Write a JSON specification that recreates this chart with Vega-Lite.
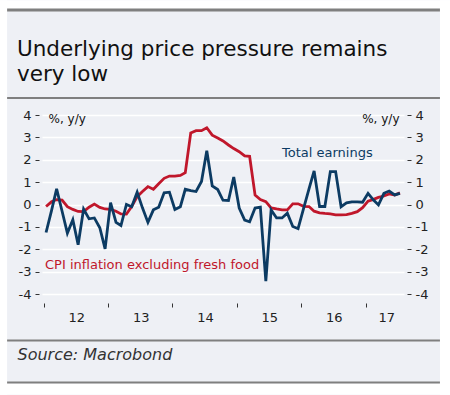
{
  "$schema": "https://vega.github.io/schema/vega-lite/v6.json",
  "width": 362,
  "height": 179,
  "autosize": "none",
  "padding": {"left": 42, "top": 115, "right": 46, "bottom": 101},
  "background": "#eef0f5",
  "config": {
    "view": {"stroke": null},
    "font": "DejaVu Sans"
  },
  "title": {
    "text": ["Underlying price pressure remains", "very low"],
    "anchor": "start",
    "frame": "group",
    "baseline": "alphabetic",
    "dx": -25,
    "dy": 102,
    "offset": 0,
    "fontSize": 21.5,
    "fontWeight": "normal",
    "color": "#111111",
    "lineHeight": 25,
    "font": "DejaVu Sans"
  },
  "data": {
    "values": [
      {"date": "2012-01-15", "cpi": -0.09, "earnings": -1.25},
      {"date": "2012-02-15", "cpi": 0.12, "earnings": -0.27},
      {"date": "2012-03-15", "cpi": 0.22, "earnings": 0.70},
      {"date": "2012-04-15", "cpi": 0.20, "earnings": -0.30},
      {"date": "2012-05-15", "cpi": -0.10, "earnings": -1.28},
      {"date": "2012-06-15", "cpi": -0.22, "earnings": -0.68},
      {"date": "2012-07-15", "cpi": -0.31, "earnings": -1.80},
      {"date": "2012-08-15", "cpi": -0.32, "earnings": -0.20},
      {"date": "2012-09-15", "cpi": -0.12, "earnings": -0.64},
      {"date": "2012-10-15", "cpi": 0.02, "earnings": -0.60},
      {"date": "2012-11-15", "cpi": -0.13, "earnings": -1.04},
      {"date": "2012-12-15", "cpi": -0.20, "earnings": -1.98},
      {"date": "2013-01-15", "cpi": -0.22, "earnings": 0.08},
      {"date": "2013-02-15", "cpi": -0.30, "earnings": -0.80},
      {"date": "2013-03-15", "cpi": -0.42, "earnings": -0.94},
      {"date": "2013-04-15", "cpi": -0.43, "earnings": 0.00},
      {"date": "2013-05-15", "cpi": -0.09, "earnings": -0.10},
      {"date": "2013-06-15", "cpi": 0.35, "earnings": 0.55},
      {"date": "2013-07-15", "cpi": 0.58, "earnings": -0.15},
      {"date": "2013-08-15", "cpi": 0.80, "earnings": -0.80},
      {"date": "2013-09-15", "cpi": 0.68, "earnings": -0.24},
      {"date": "2013-10-15", "cpi": 0.93, "earnings": -0.12},
      {"date": "2013-11-15", "cpi": 1.17, "earnings": 0.52},
      {"date": "2013-12-15", "cpi": 1.27, "earnings": 0.55},
      {"date": "2014-01-15", "cpi": 1.27, "earnings": -0.22},
      {"date": "2014-02-15", "cpi": 1.30, "earnings": -0.10},
      {"date": "2014-03-15", "cpi": 1.42, "earnings": 0.68},
      {"date": "2014-04-15", "cpi": 3.20, "earnings": 0.62},
      {"date": "2014-05-15", "cpi": 3.30, "earnings": 0.58},
      {"date": "2014-06-15", "cpi": 3.30, "earnings": 1.03},
      {"date": "2014-07-15", "cpi": 3.43, "earnings": 2.40},
      {"date": "2014-08-15", "cpi": 3.10, "earnings": 0.83},
      {"date": "2014-09-15", "cpi": 2.97, "earnings": 0.67},
      {"date": "2014-10-15", "cpi": 2.84, "earnings": 0.19},
      {"date": "2014-11-15", "cpi": 2.66, "earnings": 0.18},
      {"date": "2014-12-15", "cpi": 2.50, "earnings": 1.23},
      {"date": "2015-01-15", "cpi": 2.36, "earnings": -0.16},
      {"date": "2015-02-15", "cpi": 2.17, "earnings": -0.70},
      {"date": "2015-03-15", "cpi": 2.15, "earnings": -0.77},
      {"date": "2015-04-15", "cpi": 0.42, "earnings": -0.16},
      {"date": "2015-05-15", "cpi": 0.22, "earnings": -0.12},
      {"date": "2015-06-15", "cpi": 0.13, "earnings": -3.43},
      {"date": "2015-07-15", "cpi": -0.15, "earnings": -0.24},
      {"date": "2015-08-15", "cpi": -0.20, "earnings": -0.60},
      {"date": "2015-09-15", "cpi": -0.24, "earnings": -0.60},
      {"date": "2015-10-15", "cpi": -0.24, "earnings": -0.39},
      {"date": "2015-11-15", "cpi": 0.03, "earnings": -0.98},
      {"date": "2015-12-15", "cpi": 0.03, "earnings": -1.08},
      {"date": "2016-01-15", "cpi": -0.08, "earnings": -0.18},
      {"date": "2016-02-15", "cpi": -0.09, "earnings": 0.70},
      {"date": "2016-03-15", "cpi": -0.30, "earnings": 1.50},
      {"date": "2016-04-15", "cpi": -0.37, "earnings": -0.09},
      {"date": "2016-05-15", "cpi": -0.40, "earnings": -0.09},
      {"date": "2016-06-15", "cpi": -0.42, "earnings": 1.47},
      {"date": "2016-07-15", "cpi": -0.46, "earnings": 1.47},
      {"date": "2016-08-15", "cpi": -0.46, "earnings": -0.10},
      {"date": "2016-09-15", "cpi": -0.45, "earnings": 0.07},
      {"date": "2016-10-15", "cpi": -0.40, "earnings": 0.12},
      {"date": "2016-11-15", "cpi": -0.32, "earnings": 0.12},
      {"date": "2016-12-15", "cpi": -0.14, "earnings": 0.10},
      {"date": "2017-01-15", "cpi": 0.15, "earnings": 0.50},
      {"date": "2017-02-15", "cpi": 0.23, "earnings": 0.20},
      {"date": "2017-03-15", "cpi": 0.32, "earnings": -0.02},
      {"date": "2017-04-15", "cpi": 0.38, "earnings": 0.50},
      {"date": "2017-05-15", "cpi": 0.47, "earnings": 0.60},
      {"date": "2017-06-15", "cpi": 0.42, "earnings": 0.43},
      {"date": "2017-07-15", "cpi": 0.52, "earnings": 0.50}
    ]
  },
  "resolve": {"axis": {"x": "independent", "y": "independent"}},
  "layer": [
    {
      "data": {"values": [{}]},
      "mark": {"type": "rect", "fill": "#ffffff"},
      "encoding": {
        "x": {"datum": {"year": 2011, "month": 4, "date": 29, "utc": true}, "type": "temporal", "axis": null,
              "scale": {"type": "utc", "domain": [{"year": 2011, "month": 12, "date": 23, "utc": true}, {"year": 2017, "month": 8, "date": 7, "utc": true}]}},
        "x2": {"datum": {"year": 2011, "month": 6, "date": 8, "utc": true}},
        "y": {"datum": 9.13, "type": "quantitative", "axis": null, "scale": {"domain": [-4, 4], "nice": false, "zero": false}},
        "y2": {"datum": -8.5}
      }
    },
    {
      "data": {"values": [{}]},
      "mark": {"type": "rect", "fill": "#ffffff"},
      "encoding": {
        "x": {"datum": {"year": 2018, "month": 2, "date": 27, "utc": true}, "type": "temporal", "axis": null,
              "scale": {"type": "utc", "domain": [{"year": 2011, "month": 12, "date": 23, "utc": true}, {"year": 2017, "month": 8, "date": 7, "utc": true}]}},
        "x2": {"datum": {"year": 2018, "month": 4, "date": 25, "utc": true}},
        "y": {"datum": 9.13, "type": "quantitative", "axis": null, "scale": {"domain": [-4, 4], "nice": false, "zero": false}},
        "y2": {"datum": -8.5}
      }
    },
    {
      "data": {"values": [{}]},
      "mark": {"type": "rect", "fill": "#ffffff"},
      "encoding": {
        "x": {"datum": {"year": 2011, "month": 4, "date": 29, "utc": true}, "type": "temporal", "axis": null,
              "scale": {"type": "utc", "domain": [{"year": 2011, "month": 12, "date": 23, "utc": true}, {"year": 2017, "month": 8, "date": 7, "utc": true}]}},
        "x2": {"datum": {"year": 2018, "month": 4, "date": 25, "utc": true}},
        "y": {"datum": 9.13, "type": "quantitative", "axis": null, "scale": {"domain": [-4, 4], "nice": false, "zero": false}},
        "y2": {"datum": 8.7}
      }
    },
    {
      "data": {"values": [{}]},
      "mark": {"type": "rect", "fill": "#ffffff"},
      "encoding": {
        "x": {"datum": {"year": 2011, "month": 4, "date": 29, "utc": true}, "type": "temporal", "axis": null,
              "scale": {"type": "utc", "domain": [{"year": 2011, "month": 12, "date": 23, "utc": true}, {"year": 2017, "month": 8, "date": 7, "utc": true}]}},
        "x2": {"datum": {"year": 2018, "month": 4, "date": 25, "utc": true}},
        "y": {"datum": -7.99, "type": "quantitative", "axis": null, "scale": {"domain": [-4, 4], "nice": false, "zero": false}},
        "y2": {"datum": -8.5}
      }
    },
    {
      "data": {"values": [{}]},
      "mark": {"type": "rule", "color": "#7f7f7f", "strokeWidth": 3},
      "encoding": {
        "x": {"datum": {"year": 2011, "month": 6, "date": 8, "utc": true}, "type": "temporal", "axis": null,
              "scale": {"type": "utc", "domain": [{"year": 2011, "month": 12, "date": 23, "utc": true}, {"year": 2017, "month": 8, "date": 7, "utc": true}]}},
        "x2": {"datum": {"year": 2018, "month": 2, "date": 27, "utc": true}},
        "y": {"datum": 8.69, "type": "quantitative", "axis": null, "scale": {"domain": [-4, 4], "nice": false, "zero": false}}
      }
    },
    {
      "data": {"values": [{}]},
      "mark": {"type": "rule", "color": "#7f7f7f", "strokeWidth": 2},
      "encoding": {
        "x": {"datum": {"year": 2011, "month": 6, "date": 8, "utc": true}, "type": "temporal", "axis": null,
              "scale": {"type": "utc", "domain": [{"year": 2011, "month": 12, "date": 23, "utc": true}, {"year": 2017, "month": 8, "date": 7, "utc": true}]}},
        "x2": {"datum": {"year": 2018, "month": 2, "date": 27, "utc": true}},
        "y": {"datum": 4.76, "type": "quantitative", "axis": null, "scale": {"domain": [-4, 4], "nice": false, "zero": false}}
      }
    },
    {
      "data": {"values": [{}]},
      "mark": {"type": "rule", "color": "#7f7f7f", "strokeWidth": 2},
      "encoding": {
        "x": {"datum": {"year": 2011, "month": 6, "date": 8, "utc": true}, "type": "temporal", "axis": null,
              "scale": {"type": "utc", "domain": [{"year": 2011, "month": 12, "date": 23, "utc": true}, {"year": 2017, "month": 8, "date": 7, "utc": true}]}},
        "x2": {"datum": {"year": 2018, "month": 2, "date": 27, "utc": true}},
        "y": {"datum": -6.08, "type": "quantitative", "axis": null, "scale": {"domain": [-4, 4], "nice": false, "zero": false}}
      }
    },
    {
      "data": {"values": [{}]},
      "mark": {"type": "rule", "color": "#7f7f7f", "strokeWidth": 2},
      "encoding": {
        "x": {"datum": {"year": 2011, "month": 6, "date": 8, "utc": true}, "type": "temporal", "axis": null,
              "scale": {"type": "utc", "domain": [{"year": 2011, "month": 12, "date": 23, "utc": true}, {"year": 2017, "month": 8, "date": 7, "utc": true}]}},
        "x2": {"datum": {"year": 2018, "month": 2, "date": 27, "utc": true}},
        "y": {"datum": -7.955, "type": "quantitative", "axis": null, "scale": {"domain": [-4, 4], "nice": false, "zero": false}}
      }
    },
    {
      "mark": {"type": "line", "color": "#c0172b", "strokeWidth": 2.8},
      "encoding": {
        "x": {
          "field": "date", "type": "temporal",
          "scale": {"type": "utc", "domain": [{"year": 2011, "month": 12, "date": 23, "utc": true}, {"year": 2017, "month": 8, "date": 7, "utc": true}]},
          "axis": {
            "orient": "bottom",
            "values": [
              {"year": 2012, "month": 1, "date": 1, "utc": true},
              {"year": 2013, "month": 1, "date": 1, "utc": true},
              {"year": 2014, "month": 1, "date": 1, "utc": true},
              {"year": 2015, "month": 1, "date": 1, "utc": true},
              {"year": 2016, "month": 1, "date": 1, "utc": true},
              {"year": 2017, "month": 1, "date": 1, "utc": true}
            ],
            "labels": false, "ticks": true, "tickSize": 4, "tickColor": "#333333", "tickWidth": 1,
            "domain": false, "grid": false, "offset": 9,
            "title": "Source: Macrobond",
            "titleX": -25, "titleY": 51, "titleAlign": "left", "titleBaseline": "middle",
            "titleFontSize": 16, "titleFontStyle": "italic", "titleFontWeight": "normal", "titleColor": "#333333",
            "titleFont": "DejaVu Sans"
          }
        },
        "y": {
          "field": "cpi", "type": "quantitative",
          "scale": {"domain": [-4, 4], "nice": false, "zero": false},
          "axis": {
            "orient": "left",
            "values": [-4, -3, -2, -1, 0, 1, 2, 3, 4],
            "grid": true, "gridColor": "#ffffff", "gridWidth": 1.6,
            "domain": false, "ticks": true, "tickSize": 4, "tickColor": "#333333", "offset": 3,
            "labelPadding": 4, "labelFontSize": 13, "labelColor": "#222222",
            "labelExpr": "datum.value < 0 ? '-' + abs(datum.value) : '' + datum.value",
            "title": "%, y/y", "titleAngle": 0, "titleAlign": "left", "titleBaseline": "middle",
            "titleX": 9, "titleY": 3, "titleFontSize": 12, "titleFontWeight": "normal", "titleColor": "#111111"
          }
        }
      }
    },
    {
      "mark": {"type": "line", "color": "#0c3b63", "strokeWidth": 2.8},
      "encoding": {
        "x": {
          "field": "date", "type": "temporal",
          "scale": {"type": "utc", "domain": [{"year": 2011, "month": 12, "date": 23, "utc": true}, {"year": 2017, "month": 8, "date": 7, "utc": true}]},
          "axis": {
            "orient": "bottom",
            "values": [
              {"year": 2012, "month": 7, "date": 5, "utc": true},
              {"year": 2013, "month": 7, "date": 5, "utc": true},
              {"year": 2014, "month": 7, "date": 5, "utc": true},
              {"year": 2015, "month": 7, "date": 5, "utc": true},
              {"year": 2016, "month": 7, "date": 5, "utc": true},
              {"year": 2017, "month": 4, "date": 28, "utc": true}
            ],
            "labelExpr": "utcFormat(datum.value, '%y')",
            "ticks": false, "tickSize": 0, "domain": false, "grid": false, "offset": 9,
            "labelPadding": 8, "labelFontSize": 13, "labelColor": "#222222", "title": null
          }
        },
        "y": {
          "field": "earnings", "type": "quantitative",
          "scale": {"domain": [-4, 4], "nice": false, "zero": false},
          "axis": {
            "orient": "right",
            "values": [-4, -3, -2, -1, 0, 1, 2, 3, 4],
            "grid": false, "domain": false, "ticks": true, "tickSize": 4, "tickColor": "#333333", "offset": 3,
            "labelPadding": 4, "labelFontSize": 13, "labelColor": "#222222",
            "labelExpr": "datum.value < 0 ? '-' + abs(datum.value) : '' + datum.value",
            "title": "%, y/y", "titleAngle": 0, "titleAlign": "right", "titleBaseline": "middle",
            "titleX": -8, "titleY": 3, "titleFontSize": 12, "titleFontWeight": "normal", "titleColor": "#111111"
          }
        }
      }
    },
    {
      "data": {"values": [{}]},
      "mark": {"type": "text", "align": "left", "baseline": "middle", "fontSize": 13, "color": "#0c3b63"},
      "encoding": {
        "x": {"datum": {"year": 2015, "month": 9, "date": 15, "utc": true}, "type": "temporal", "axis": null,
              "scale": {"type": "utc", "domain": [{"year": 2011, "month": 12, "date": 23, "utc": true}, {"year": 2017, "month": 8, "date": 7, "utc": true}]}},
        "y": {"datum": 2.3, "type": "quantitative", "axis": null, "scale": {"domain": [-4, 4], "nice": false, "zero": false}},
        "text": {"value": "Total earnings"}
      }
    },
    {
      "data": {"values": [{}]},
      "mark": {"type": "text", "align": "left", "baseline": "middle", "fontSize": 13, "color": "#c0172b"},
      "encoding": {
        "x": {"datum": {"year": 2012, "month": 1, "date": 9, "utc": true}, "type": "temporal", "axis": null,
              "scale": {"type": "utc", "domain": [{"year": 2011, "month": 12, "date": 23, "utc": true}, {"year": 2017, "month": 8, "date": 7, "utc": true}]}},
        "y": {"datum": -2.7, "type": "quantitative", "axis": null, "scale": {"domain": [-4, 4], "nice": false, "zero": false}},
        "text": {"value": "CPI inflation excluding fresh food"}
      }
    }
  ]
}
